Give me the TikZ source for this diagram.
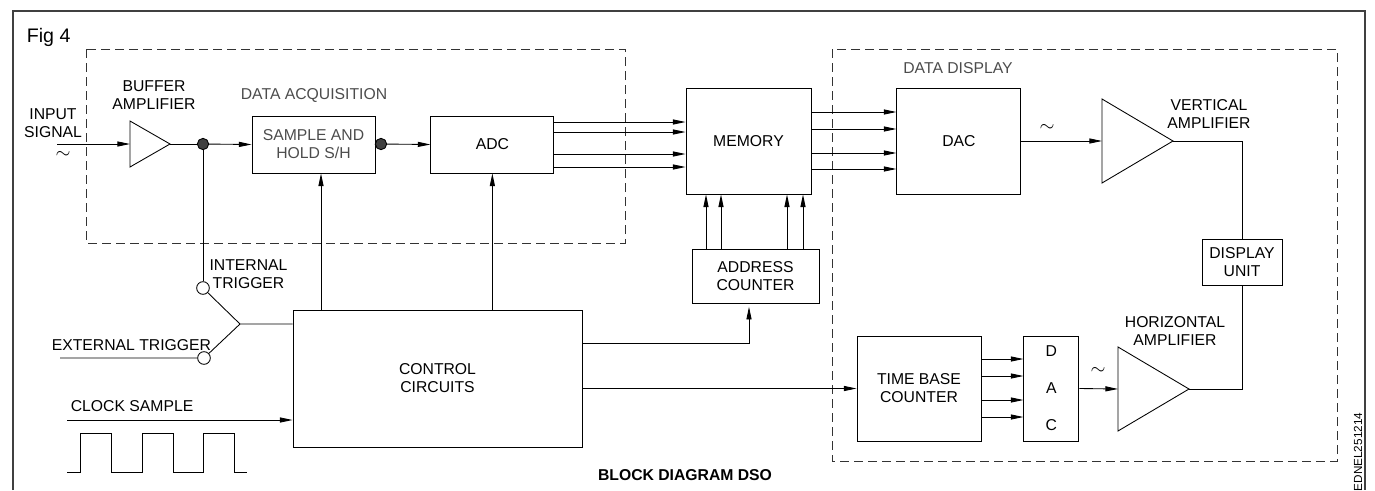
\documentclass[tikz,border=0pt]{standalone}
\usepackage{xcolor}
\usepackage{fontspec}
\setmainfont{Liberation Sans}
\usepackage{tikz}
\usetikzlibrary{shapes,arrows.meta,positioning,calc}

\begin{document}
\begin{tikzpicture}[x=0.75pt, y=-0.75pt, line width=0.65pt,
    font=\fontsize{11.8}{13.5}\selectfont,
    blk/.style={draw, align=center, inner sep=1pt},
    sig/.style={-{Triangle[length=9.5pt,width=3.8pt]}},
    zone/.style={draw, black!80, dash pattern=on 7pt off 3.5pt},
    tap/.style={circle, draw, fill=black!75, minimum size=8.5pt, inner sep=0pt},
    pole/.style={circle, draw, fill=white, minimum size=9.5pt, inner sep=0pt},
    wave/.style={font=\fontsize{15}{16}\selectfont},
    greytext/.style={text=black!70}]
  \useasboundingbox (0,0) rectangle (1375,490);
  \draw[black!75, line width=0.8pt] (13,490) -- (13,11) -- (1365,11) -- (1365,490);
  \draw[zone] (86,49) rectangle (625,243);
  \draw[zone] (832,49) rectangle (1337,461);

  \node[anchor=west, font=\fontsize{14.7}{16}\selectfont] (fig) at (22,37) {Fig 4};
  \node[align=center] (inlabel) at (53,123) {INPUT\\SIGNAL};
  \node[wave] (intilde) at (63,155) {$\sim$};
  \coordinate (signalin) at (57,144);
  \draw (130,121) coordinate (buffer top) -- (170,144) coordinate (buffer out)
    -- (130,167) -- cycle;
  \coordinate (buffer in) at (130,144);
  \node[align=center] (buflabel) at (154,95) {BUFFER\\AMPLIFIER};
  \node[greytext] (acqlabel) at (314,95) {DATA ACQUISITION};
  \node[tap] (tapa) at (203,144) {};
  \node[blk, greytext, minimum width=92.25pt, minimum height=42.75pt] (sh) at (313.5,144.5) {SAMPLE AND\\HOLD S/H};
  \node[tap] (tapb) at (381,144) {};
  \node[blk, minimum width=92.25pt, minimum height=42.75pt, right=41.25pt of sh] (adc) {ADC};
  \node[blk, minimum width=93.75pt, minimum height=79.5pt] (memory) at (748.5,141) {MEMORY};
  \node[blk, minimum width=93pt, minimum height=79.5pt, right=63.75pt of memory] (dac) {DAC};
  \node[blk, minimum width=95.25pt, minimum height=40.5pt] (addr) at (755.5,276) {ADDRESS\\COUNTER};
  \node[greytext] (displabel) at (958,68) {DATA DISPLAY};
  \node[wave] (vtilde) at (1047,128) {$\sim$};
  \draw (1102,99) -- (1173,141) coordinate (vamp out) -- (1102,183) -- cycle;
  \coordinate (vamp in) at (1102,141);
  \node[align=center] (vamplabel) at (1209,114) {VERTICAL\\AMPLIFIER};
  \node[blk, minimum width=60pt, minimum height=34.5pt] (display) at (1242,262) {DISPLAY\\UNIT};

  \node[pole] (swint) at (203,288) {};
  \node[align=center] (intlabel) at (248.5,274) {INTERNAL\\TRIGGER};
  \node[pole] (swext) at (204,358) {};
  \node[anchor=west] (extlabel) at (47,345) {EXTERNAL TRIGGER};
  \coordinate (extin) at (60,358);
  \coordinate (junc) at (240,324);
  \node[anchor=west] (clklabel) at (66,406) {CLOCK SAMPLE};
  \coordinate (clkin) at (67,420);
  \node[blk, minimum width=216.75pt, minimum height=102.75pt] (control) at (437.5,378.5) {CONTROL\\CIRCUITS};
  \node[blk, minimum width=93pt, minimum height=78.75pt] (timebase) at (919,388.5) {TIME BASE\\COUNTER};
  \node[blk, minimum width=41.25pt, minimum height=78.75pt, right=31.5pt of timebase] (dacb) {D\\[14.25pt]A\\[14.25pt]C};
  \node[wave] (htilde) at (1098,371) {$\sim$};
  \draw (1118,347) -- (1189,389) coordinate (hamp out) -- (1118,431) -- cycle;
  \coordinate (hamp in) at (1118,389);
  \node[align=center] (hamplabel) at (1175,331) {HORIZONTAL\\AMPLIFIER};
  \node[font=\fontsize{11.8}{13.5}\selectfont\bfseries] (title) at (685,475) {BLOCK DIAGRAM DSO};
  \node[rotate=90, anchor=east, font=\fontsize{8.8}{10}\selectfont] (code) at (1358,408) {EDNEL251214};

  \draw[sig] (signalin) -- (buffer in);
  \draw (buffer out) -- (tapa);
  \draw[sig] (tapa) -- (sh.west);
  \draw (sh.east) -- (tapb);
  \draw[sig] (tapb) -- (adc.west);
  \foreach \dy in {-22.5,-12.5,9.5,22.5}
    \draw[sig] ($(adc.east)+(0,\dy)$) -- ($(adc.east -| memory.west)+(0,\dy)$);
  \foreach \dy in {-29,-12,12,28}
    \draw[sig] ($(memory.east)+(0,\dy)$) -- ($(memory.east -| dac.west)+(0,\dy)$);
  \foreach \dx in {-49.5,-34.5,31.5,47.5}
    \draw[sig] ($(addr.north)+(\dx,0)$) -- ($(addr.north |- memory.south)+(\dx,0)$);
  \draw[sig] (dac.east) -- (vamp in);
  \draw (vamp out) -| (display.north);
  \draw (hamp out) -| (display.south);
  \draw[sig] (dacb.east) -- (hamp in);
  \foreach \dy in {-29.5,-12.5,11.5,28.5}
    \draw[sig] ($(timebase.east)+(0,\dy)$) -- ($(timebase.east -| dacb.west)+(0,\dy)$);

  \draw (tapa) -- (swint);
  \draw (swint) -- (junc) -- (junc -| control.west);
  \draw (extin) -- (swext) -- (junc);
  \draw[sig] (clkin) -- (clkin -| control.west);
  \draw (67,472) foreach \p in {80,142,203} {-- (\p,472) -- (\p,433) -- (\p+31,433) -- (\p+31,472)} -- (247,472);
  \coordinate (shin) at ($(sh.south)+(7.5,0)$);
  \draw[sig] (shin |- control.north) -- (shin);
  \draw[sig] (adc.south |- control.north) -- (adc.south);
  \draw[sig, shorten >=2.5pt] ($(control.east)+(0,-35.5)$) -| ($(addr.south)+(-6.5,0)$);
  \draw[sig] (control.east |- timebase.west) -- (timebase.west);
\end{tikzpicture}
\end{document}
